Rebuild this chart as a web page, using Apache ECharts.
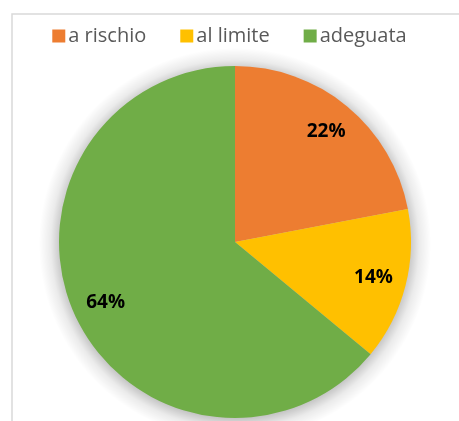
<!DOCTYPE html>
<html>
<head>
<meta charset="utf-8">
<script src="https://cdn.jsdelivr.net/npm/echarts@6/dist/echarts.min.js"></script>
<style>
  html, body { margin: 0; padding: 0; background: #fff; }
  #chart { width: 459px; height: 421px; }
</style>
</head>
<body>
<div id="chart"></div>
<script>
const categories = ['a rischio', 'al limite', 'adeguata'];
const values = [22, 14, 64];
const colors = ['#ed7d31', '#ffc000', '#70ad47'];

const chart = echarts.init(document.getElementById('chart'));

const pieData = categories.map((name, i) => ({
    name: name,
    value: values[i],
    itemStyle: { color: colors[i] }
}));

const options = {
    animation: false,
    graphic: [
        {
            type: 'rect',
            shape: { x: 12, y: 14, width: 600, height: 600 },
            style: { fill: 'none', stroke: '#d9d9d9', lineWidth: 1.5 }
        }
    ],
    legend: {
        data: categories,
        top: 21,
        left: 'center',
        itemWidth: 13,
        itemHeight: 13,
        itemGap: 34,
        icon: 'rect',
        textStyle: { fontFamily: 'Open Sans', fontSize: 20, color: '#595959', padding: [0, 0, 0, -2] }
    },
    series: [
        {
            // soft halo under the pie
            type: 'pie',
            center: [235, 244],
            radius: [0, 196],
            silent: true,
            label: { show: false },
            labelLine: { show: false },
            itemStyle: {
                color: new echarts.graphic.RadialGradient(0.5, 0.5, 0.5, [
                    { offset: 0, color: 'rgba(0,0,0,0.25)' },
                    { offset: 0.88, color: 'rgba(0,0,0,0.25)' },
                    { offset: 0.94, color: 'rgba(0,0,0,0.08)' },
                    { offset: 1, color: 'rgba(0,0,0,0)' }
                ])
            },
            data: [{ name: 'halo', value: 1 }],
            z: 1
        },
        {
            type: 'pie',
            center: [235, 242],
            radius: [0, 176],
            startAngle: 90,
            clockwise: true,
            label: { show: false },
            data: pieData,
            z: 5
        },
        {
            // transparent ring only for label placement
            type: 'pie',
            center: [235, 242],
            radius: [104, 176],
            startAngle: 90,
            clockwise: true,
            silent: true,
            itemStyle: { color: 'rgba(0,0,0,0)' },
            label: {
                show: true,
                position: 'inside',
                formatter: '{c}%',
                fontFamily: 'Open Sans',
                fontWeight: 'bold',
                fontSize: 19,
                color: '#000'
            },
            data: categories.map((name, i) => ({ name: name, value: values[i] })),
            z: 6
        }
    ]
};

chart.setOption(options);
</script>
</body>
</html>
